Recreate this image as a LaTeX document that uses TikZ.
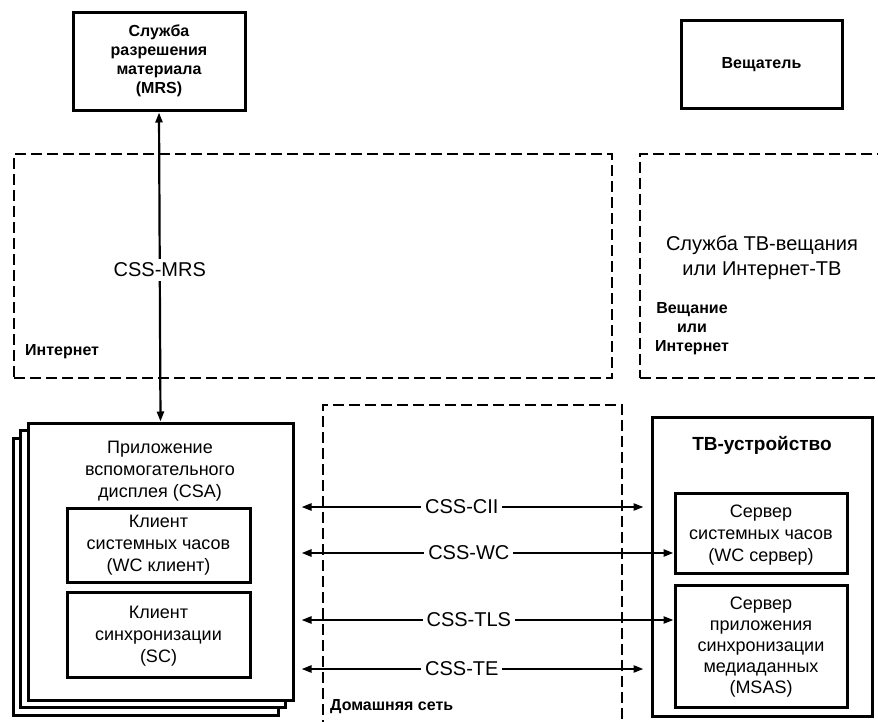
\documentclass[tikz,border=0pt]{standalone}
\usepackage{fontspec}
\setmainfont{Liberation Sans}
\usetikzlibrary{arrows.meta}
\tikzset{
  solidbox/.style={draw, line width=3pt, fill=white, inner sep=0pt},
  dashbox/.style={draw, line width=2.2pt, dash pattern=on 11pt off 5pt, inner sep=0pt},
  blbl/.style={font=\fontsize{16}{19}\selectfont\bfseries, align=center, inner sep=0pt},
  rlbl/.style={font=\fontsize{18}{22}\selectfont, align=center, inner sep=0pt},
  biglbl/.style={font=\fontsize{20}{25}\selectfont, align=center, inner sep=0pt},
  csslbl/.style={font=\fontsize{20}{24}\selectfont, fill=white, inner sep=4pt},
  link/.style={line width=2.2pt, {Triangle[length=10pt,width=7pt]}-{Triangle[length=10pt,width=7pt]}},
}
\begin{document}
\begin{tikzpicture}[x=1pt,y=-1pt]
\useasboundingbox (0,0) rectangle (878,722);
\clip (0,0) rectangle (878,722);
\fill[white] (0,0) rectangle (878,722);

% dashed regions
\node[dashbox, minimum width=598pt, minimum height=224pt] (inet) at (313,266) {};
\node[blbl, anchor=west] (inetlbl) at (25,352) {Интернет};
\node[dashbox, minimum width=260pt, minimum height=224pt] (tvs) at (770,266) {};
\node[biglbl] (tvslbl) at (762,258) {Служба ТВ-вещания\\или Интернет-ТВ};
\node[blbl] (tvslbl2) at (692,329) {Вещание\\или\\Интернет};
\node[dashbox, minimum width=299pt, minimum height=335pt] (home) at (472.5,572.5) {};
\node[blbl, anchor=west] (homelbl) at (330,707) {Домашняя сеть};

% top boxes
\node[solidbox, minimum width=172pt, minimum height=98pt] (mrs) at (159,62) {};
\node[blbl] (mrslbl) at (159,61) {Служба\\разрешения\\материала\\(MRS)};
\node[solidbox, minimum width=161pt, minimum height=88pt] (brd) at (761.5,65) {};
\node[blbl] (brdlbl) at (761.5,65) {Вещатель};

% CSA stack
\node[solidbox, minimum width=265pt, minimum height=277pt] (csa2) at (145.5,576.5) {};
\node[solidbox, minimum width=265pt, minimum height=277pt] (csa1) at (152.5,568.5) {};
\node[solidbox, minimum width=265pt, minimum height=277pt] (csa) at (160.5,561.5) {};
\node[rlbl] (csalbl) at (160,471) {Приложение\\вспомогательного\\дисплея (CSA)};
\node[solidbox, minimum width=183pt, minimum height=74pt] (wcc) at (158.5,545) {};
\node[rlbl] (wcclbl) at (158.5,545) {Клиент\\системных часов\\(WC клиент)};
\node[solidbox, minimum width=183pt, minimum height=85pt] (scc) at (158.5,634.5) {};
\node[rlbl] (scclbl) at (158.5,636) {Клиент\\синхронизации\\(SC)};

% TV device
\node[solidbox, minimum width=220pt, minimum height=299pt] (tv) at (762,566.5) {};
\node[blbl, font=\fontsize{19}{22}\selectfont\bfseries] (tvlbl) at (762,445) {ТВ-устройство};
\node[solidbox, minimum width=172pt, minimum height=80pt] (wcs) at (761,533) {};
\node[rlbl] (wcslbl) at (761,535) {Сервер\\системных часов\\(WC сервер)};
\node[solidbox, minimum width=172pt, minimum height=122pt] (msas) at (761,646) {};
\node[rlbl, font=\fontsize{18}{21}\selectfont] (msaslbl) at (761,647) {Сервер\\приложения\\синхронизации\\медиаданных\\(MSAS)};

% connectors
\coordinate (ycii) at (0,507);
\coordinate (ywc) at (0,553);
\coordinate (ytls) at (0,620);
\coordinate (yte) at (0,669);

\draw[link] (mrs.south) -- (csa.north) node[csslbl, pos=0.51] {CSS-MRS};
\draw[link, shorten <=7pt, shorten >=7pt] (csa.east |- ycii) -- (tv.west |- ycii) node[csslbl, pos=0.47] {CSS-CII};
\draw[link, line width=2.8pt, shorten <=7pt] (csa.east |- ywc) -- (wcs.west |- ywc) node[csslbl, pos=0.46] {CSS-WC};
\draw[link, shorten <=7pt] (csa.east |- ytls) -- (msas.west |- ytls) node[csslbl, pos=0.46] {CSS-TLS};
\draw[link, shorten <=7pt, shorten >=7pt] (csa.east |- yte) -- (tv.west |- yte) node[csslbl, pos=0.47] {CSS-TE};
\end{tikzpicture}
\end{document}
